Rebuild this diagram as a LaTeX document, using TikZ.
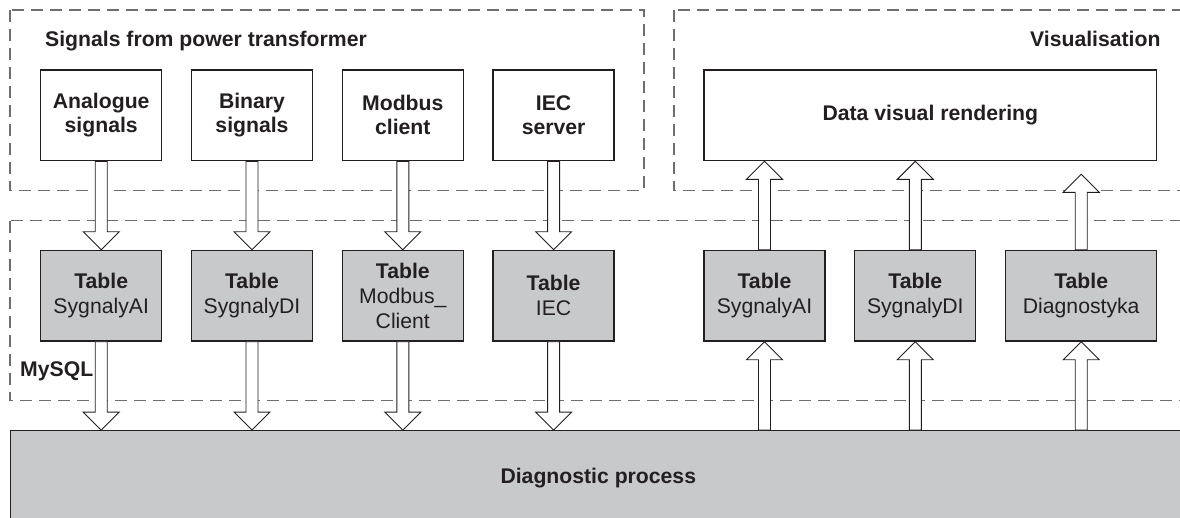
\documentclass[tikz,border=0pt]{standalone}
\usepackage{fontspec}
\setmainfont{Liberation Sans}
\usetikzlibrary{calc}

\definecolor{boxgray}{RGB}{200,201,203}
\definecolor{ink}{RGB}{35,31,32}
\definecolor{dashgray}{RGB}{110,110,110}

% Hollow block arrow between two points (vertical only)
\newcommand{\blockarrow}[2]{%
  \draw[blockarr] let \p1=(#1), \p2=(#2), \n1={ifthenelse(\y2>\y1,1,-1)} in
    ({\x1-6pt},\y1) -- ({\x1-6pt},{\y2-(\n1)*18pt}) -- ({\x1-18pt},{\y2-(\n1)*18pt}) -- (\x1,\y2)
    -- ({\x1+18pt},{\y2-(\n1)*18pt}) -- ({\x1+6pt},{\y2-(\n1)*18pt}) -- ({\x1+6pt},\y1) -- cycle;}

\begin{document}
\begin{tikzpicture}[x=1pt,y=-1pt,
  group/.style={draw=dashgray, line width=1.2pt, dash pattern=on 12pt off 7pt},
  srcbox/.style={draw=ink, line width=1.3pt, fill=white, minimum width=121pt,
    minimum height=90.7pt, inner sep=0pt, align=center, text=ink,
    font=\bfseries\fontsize{21.2}{24.2}\selectfont},
  tablebox/.style={draw=ink, line width=1.3pt, fill=boxgray, minimum width=121pt,
    minimum height=90.7pt, inner sep=0pt, align=center, text=ink,
    font=\fontsize{21.2}{25.2}\selectfont},
  label/.style={inner sep=0pt, text=ink, font=\bfseries\fontsize{21.2}{24}\selectfont},
  blockarr/.style={draw=ink, line width=0.9pt, fill=white, line join=miter}]

\useasboundingbox (0,0) rectangle (1180,517);
\clip (0,0) rectangle (1180,517);

% Group frames
\draw[group] (10,10) rectangle (644,190.7);
\draw[group] (674,10) rectangle (1195,190.7);
\draw[group] (10,220.7) rectangle (1195,400.7);

\node[label, anchor=base west] (sigtitle) at (45,46.7) {Signals from power transformer};
\node[label, anchor=base east] (vistitle) at (1160.7,46.7) {Visualisation};
\node[label, anchor=base west] (mysql) at (20,376) {MySQL};

% Signal sources
\node[srcbox] (ana) at (101.2,115.3) {Analogue\\signals};
\node[srcbox] (bin) at (252,115.3) {Binary\\signals};
\node[srcbox] (mod) at (402.8,115.3) {Modbus\\client};
\node[srcbox] (iec) at (553.6,115.3) {IEC\\server};

% Visualisation
\node[srcbox, minimum width=452.7pt] (vis) at (930.3,115.3) {Data visual rendering};

% Database tables
\node[tablebox] (tai) at (101.2,295.7) {\textbf{Table}\\SygnalyAI};
\node[tablebox] (tdi) at (252,295.7) {\textbf{Table}\\SygnalyDI};
\node[tablebox] (tmod) at (402.8,295.7) {\textbf{Table}\\Modbus\_\\Client};
\node[tablebox] (tiec) at (553.6,295.7) {\textbf{Table}\\IEC};
\node[tablebox] (rai) at (764.5,295.7) {\textbf{Table}\\SygnalyAI};
\node[tablebox] (rdi) at (915.3,295.7) {\textbf{Table}\\SygnalyDI};
\node[tablebox, minimum width=151pt] (rdg) at (1081.2,295.7) {\textbf{Table}\\Diagnostyka};

% Diagnostic process
\node[tablebox, minimum width=1175.3pt, minimum height=94.3pt,
  font=\bfseries\fontsize{21.2}{24}\selectfont] (diag) at (598.3,477.9) {Diagnostic process};

\coordinate (dtip) at ([yshift=75.4pt]rdg.north);

% Data flow: sources -> tables -> process
\blockarrow{ana.south}{tai.north}
\blockarrow{bin.south}{tdi.north}
\blockarrow{mod.south}{tmod.north}
\blockarrow{iec.south}{tiec.north}
\blockarrow{tai.south}{tai.south |- diag.north}
\blockarrow{tdi.south}{tdi.south |- diag.north}
\blockarrow{tmod.south}{tmod.south |- diag.north}
\blockarrow{tiec.south}{tiec.south |- diag.north}

% Data flow: process -> tables -> visualisation
\blockarrow{rai.south |- diag.north}{rai.south}
\blockarrow{rdi.south |- diag.north}{rdi.south}
\blockarrow{rdg.south |- diag.north}{rdg.south}
\blockarrow{rai.north}{rai.north |- vis.south}
\blockarrow{rdi.north}{rdi.north |- vis.south}
\blockarrow{rdg.north}{dtip}

\end{tikzpicture}
\end{document}
